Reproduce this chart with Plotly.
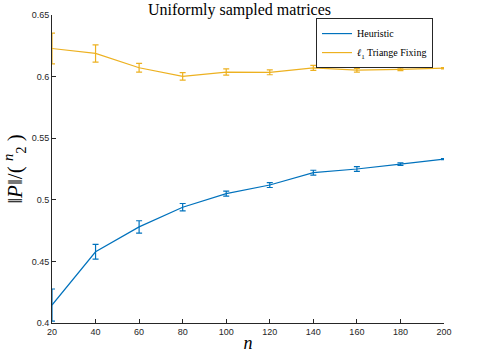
import plotly.graph_objects as go

n = [20, 40, 60, 80, 100, 120, 140, 160, 180, 200]

heuristic = [0.4146, 0.4578, 0.478, 0.494, 0.505, 0.512, 0.522, 0.525, 0.529, 0.533]
heuristic_err = [0.013, 0.006, 0.005, 0.003, 0.002, 0.002, 0.002, 0.002, 0.001, 0.0005]

triangle = [0.6228, 0.6188, 0.6072, 0.6002, 0.6037, 0.6035, 0.6071, 0.6052, 0.6058, 0.6068]
triangle_err = [0.0125, 0.007, 0.0035, 0.003, 0.0025, 0.002, 0.002, 0.0015, 0.001, 0.0005]

x_ticks = [20, 40, 60, 80, 100, 120, 140, 160, 180, 200]
y_ticks = [0.4, 0.45, 0.5, 0.55, 0.6, 0.65]
y_tick_text = ["0.4", "0.45", "0.5", "0.55", "0.6", "0.65"]

blue = "#0072BD"
yellow = "#EDB120"
serif = "Liberation Serif, DejaVu Serif, serif"
sans = "Liberation Sans, Arial, sans-serif"

fig = go.Figure()

fig.add_trace(go.Scatter(
    x=n, y=heuristic, mode="lines", name="Heuristic",
    line=dict(color=blue, width=1.2),
    error_y=dict(type="data", array=heuristic_err, color=blue, thickness=1.2, width=3),
))
fig.add_trace(go.Scatter(
    x=n, y=triangle, mode="lines", name="<i>ℓ</i><sub>1</sub> Triange Fixing",
    line=dict(color=yellow, width=1.2),
    error_y=dict(type="data", array=triangle_err, color=yellow, thickness=1.2, width=3),
))

axis_common = dict(
    showgrid=False, zeroline=False, showline=True, linecolor="#262626", linewidth=1,
    ticks="inside", ticklen=4, tickcolor="#262626", mirror=False, automargin=False,
    tickfont=dict(family=sans, size=9, color="#262626"),
)

fig.update_layout(
    width=479, height=353,
    margin=dict(l=52, r=35, t=15, b=30),
    paper_bgcolor="white", plot_bgcolor="white",
    title=dict(text="Uniformly sampled matrices", x=0.5, xanchor="center",
               y=0.972, yanchor="middle",
               font=dict(family=serif, size=16, color="black")),
    xaxis=dict(range=[20, 200], tickvals=x_ticks,
               title=dict(text="<i>n</i>", font=dict(family=serif, size=18, color="black"),
                          standoff=2),
               **axis_common),
    yaxis=dict(range=[0.4, 0.65], tickvals=y_ticks, ticktext=y_tick_text,
               title=dict(text="‖<i>P</i>‖/( <sup><i>n</i></sup><sub>2</sub> )",
                          font=dict(family=serif, size=21, color="black"), standoff=4),
               **axis_common),
    legend=dict(x=0.972, y=0.99, xanchor="right", yanchor="top",
                bgcolor="white", bordercolor="#262626", borderwidth=1,
                font=dict(family=serif, size=10, color="black"),
                tracegroupgap=0, itemwidth=30),
)

fig.write_html("out.html", config={"displayModeBar": False},
               post_script="document.body.style.margin='0';")
